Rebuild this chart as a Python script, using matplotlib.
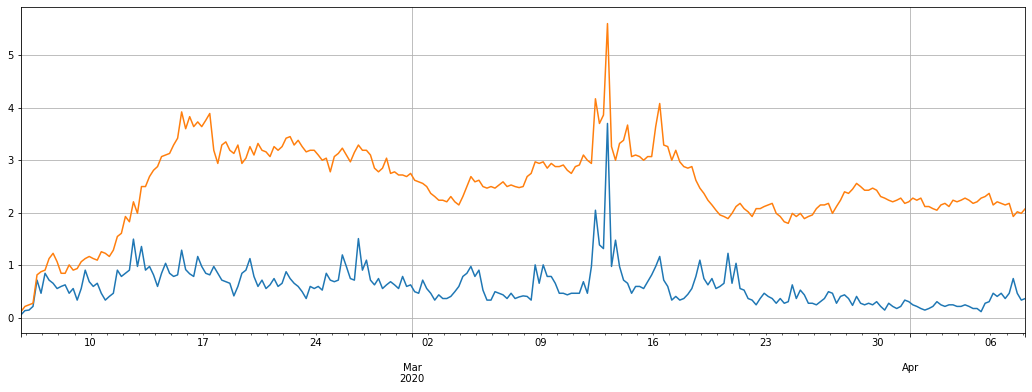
import matplotlib
matplotlib.use("Agg")
import matplotlib.pyplot as plt
import pandas as pd

start_time = "2020-02-05 16:00"
step = "6h"

series_blue = [
    0.06, 0.14, 0.15, 0.22, 0.72, 0.47, 0.85, 0.72, 0.66, 0.56,
    0.60, 0.63, 0.47, 0.56, 0.34, 0.56, 0.91, 0.69, 0.60, 0.66,
    0.47, 0.34, 0.41, 0.47, 0.91, 0.79, 0.85, 0.91, 1.50, 0.98,
    1.36, 0.91, 0.98, 0.82, 0.60, 0.85, 1.04, 0.85, 0.79, 0.82,
    1.29, 0.92, 0.84, 0.79, 1.17, 0.98, 0.85, 0.82, 0.98, 0.85,
    0.72, 0.69, 0.66, 0.42, 0.60, 0.85, 0.91, 1.13, 0.79, 0.60,
    0.72, 0.56, 0.63, 0.75, 0.60, 0.66, 0.88, 0.75, 0.66, 0.60,
    0.50, 0.37, 0.60, 0.56, 0.60, 0.53, 0.85, 0.72, 0.69, 0.72,
    1.20, 0.98, 0.75, 0.72, 1.51, 0.91, 1.10, 0.72, 0.63, 0.75,
    0.56, 0.63, 0.69, 0.63, 0.56, 0.79, 0.60, 0.63, 0.50, 0.47,
    0.72, 0.56, 0.47, 0.34, 0.44, 0.37, 0.37, 0.41, 0.50, 0.60,
    0.79, 0.85, 0.98, 0.79, 0.91, 0.53, 0.34, 0.34, 0.50, 0.47,
    0.44, 0.37, 0.47, 0.37, 0.40, 0.42, 0.41, 0.34, 1.01, 0.66,
    1.01, 0.79, 0.79, 0.66, 0.47, 0.47, 0.44, 0.47, 0.47, 0.47,
    0.69, 0.47, 0.98, 2.05, 1.39, 1.32, 3.70, 0.98, 1.48, 0.98,
    0.72, 0.66, 0.47, 0.60, 0.60, 0.56, 0.69, 0.82, 0.98, 1.17,
    0.72, 0.60, 0.34, 0.41, 0.34, 0.37, 0.45, 0.56, 0.79, 1.10,
    0.75, 0.63, 0.75, 0.56, 0.60, 0.66, 1.23, 0.66, 1.04, 0.56,
    0.53, 0.37, 0.34, 0.25, 0.37, 0.47, 0.41, 0.37, 0.28, 0.37,
    0.28, 0.31, 0.63, 0.37, 0.53, 0.44, 0.28, 0.28, 0.25, 0.31,
    0.37, 0.50, 0.47, 0.28, 0.41, 0.44, 0.37, 0.24, 0.41, 0.28,
    0.25, 0.28, 0.25, 0.31, 0.22, 0.15, 0.28, 0.22, 0.18, 0.22,
    0.34, 0.31, 0.25, 0.22, 0.18, 0.15, 0.18, 0.22, 0.31, 0.25,
    0.22, 0.25, 0.25, 0.22, 0.22, 0.25, 0.22, 0.18, 0.18, 0.12,
    0.28, 0.31, 0.47, 0.41, 0.47, 0.37, 0.47, 0.75, 0.47, 0.34,
    0.37,
]

series_orange = [
    0.12, 0.22, 0.25, 0.28, 0.82, 0.88, 0.91, 1.13, 1.23, 1.07,
    0.85, 0.85, 1.01, 0.91, 0.94, 1.07, 1.13, 1.17, 1.13, 1.10,
    1.26, 1.23, 1.17, 1.29, 1.55, 1.61, 1.93, 1.83, 2.21, 1.99,
    2.50, 2.50, 2.69, 2.81, 2.88, 3.07, 3.10, 3.13, 3.29, 3.42,
    3.92, 3.60, 3.83, 3.64, 3.73, 3.64, 3.76, 3.89, 3.19, 2.94,
    3.29, 3.35, 3.19, 3.13, 3.29, 2.94, 3.04, 3.26, 3.10, 3.32,
    3.19, 3.16, 3.07, 3.26, 3.19, 3.26, 3.42, 3.45, 3.29, 3.38,
    3.26, 3.16, 3.19, 3.19, 3.10, 3.00, 3.04, 2.78, 3.07, 3.13,
    3.23, 3.10, 2.97, 3.15, 3.29, 3.19, 3.19, 3.10, 2.85, 2.78,
    2.85, 3.04, 2.75, 2.78, 2.72, 2.72, 2.69, 2.75, 2.62, 2.59,
    2.56, 2.50, 2.37, 2.31, 2.24, 2.24, 2.21, 2.31, 2.21, 2.15,
    2.31, 2.50, 2.69, 2.59, 2.62, 2.50, 2.47, 2.50, 2.47, 2.53,
    2.59, 2.50, 2.53, 2.50, 2.48, 2.50, 2.69, 2.75, 2.97, 2.94,
    2.97, 2.85, 2.94, 2.88, 2.88, 2.91, 2.81, 2.75, 2.88, 2.91,
    3.10, 3.00, 2.94, 4.17, 3.70, 3.86, 5.60, 3.26, 3.00, 3.32,
    3.38, 3.67, 3.07, 3.10, 3.07, 3.00, 3.07, 3.07, 3.64, 4.08,
    3.29, 3.26, 3.00, 3.19, 2.97, 2.88, 2.85, 2.88, 2.62, 2.47,
    2.37, 2.24, 2.15, 2.05, 1.96, 1.93, 1.89, 1.99, 2.12, 2.18,
    2.08, 2.02, 1.93, 2.08, 2.08, 2.12, 2.15, 2.18, 1.99, 1.93,
    1.83, 1.80, 1.99, 1.93, 1.99, 1.89, 1.93, 1.96, 2.08, 2.15,
    2.15, 2.18, 1.99, 2.12, 2.24, 2.40, 2.37, 2.45, 2.56, 2.50,
    2.43, 2.43, 2.47, 2.43, 2.31, 2.28, 2.24, 2.21, 2.24, 2.28,
    2.18, 2.21, 2.28, 2.24, 2.28, 2.12, 2.12, 2.08, 2.05, 2.15,
    2.18, 2.12, 2.24, 2.21, 2.24, 2.28, 2.24, 2.18, 2.21, 2.28,
    2.31, 2.37, 2.15, 2.21, 2.18, 2.15, 2.18, 1.93, 2.02, 1.99,
    2.08,
]

index = pd.date_range(start_time, periods=len(series_blue), freq=step)
df = pd.DataFrame({"a": series_blue, "b": series_orange}, index=index)

fig = plt.figure(figsize=(1032 / 72, 392 / 72), dpi=72)
ax = fig.add_axes([0.0203, 0.1513, 0.9732, 0.8301])
df.plot(ax=ax, legend=False, grid=True, color=["#1f77b4", "#ff7f0e"], linewidth=1.5)
ax.set_ylim(-0.28, 5.91)
ax.set_xlabel("")
fig.savefig("out.png", dpi=72)
